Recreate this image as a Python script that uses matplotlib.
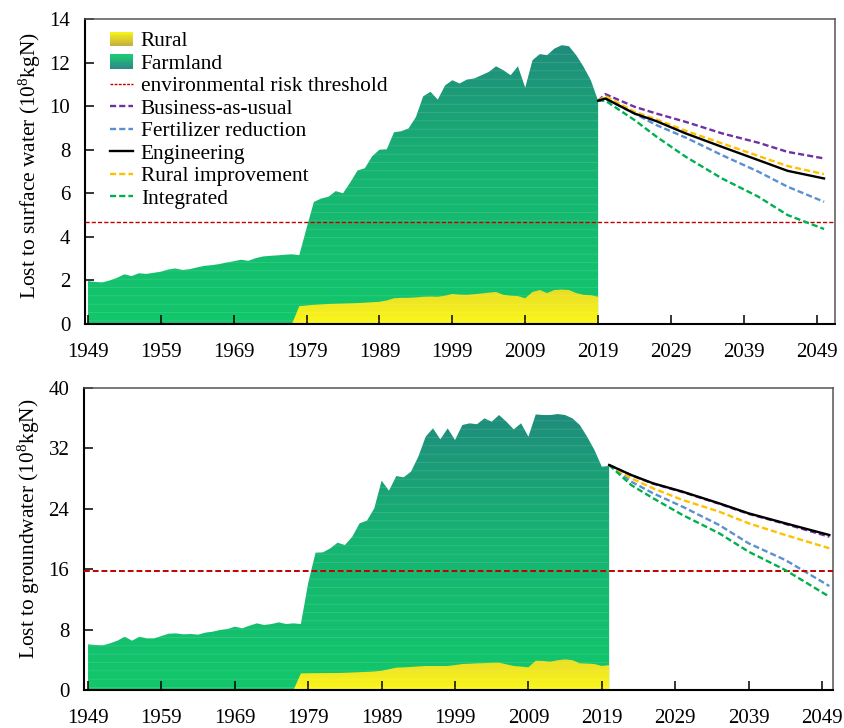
import numpy as np
import matplotlib
matplotlib.use("Agg")
import matplotlib.pyplot as plt
from matplotlib.colors import LinearSegmentedColormap
from matplotlib.legend_handler import HandlerBase
from matplotlib.patches import Patch, Rectangle
from matplotlib.lines import Line2D

plt.rcParams.update({
    "font.family": "Liberation Serif",
    "mathtext.fontset": "custom",
    "mathtext.rm": "Liberation Serif",
    "mathtext.default": "regular",
    "hatch.linewidth": 0.5,
})

# ---- historical data (10^8 kgN) ----
years_sw = np.arange(1949, 2020)
surface_farmland = [
    1.97, 1.93, 1.91, 2.00, 2.12, 2.28, 2.20, 2.33, 2.30, 2.35,
    2.40, 2.50, 2.55, 2.48, 2.52, 2.60, 2.67, 2.70, 2.75, 2.82,
    2.88, 2.95, 2.90, 3.02, 3.10, 3.13, 3.15, 3.18, 3.20, 3.16,
    4.40, 5.60, 5.76, 5.84, 6.10, 6.00, 6.50, 7.05, 7.15, 7.70,
    8.00, 8.02, 8.80, 8.85, 8.98, 9.50, 10.45, 10.66, 10.30, 10.95,
    11.19, 11.04, 11.22, 11.27, 11.42, 11.57, 11.83, 11.65, 11.42, 11.83,
    10.85, 12.11, 12.39, 12.34, 12.64, 12.80, 12.75, 12.34, 11.81, 11.19,
    10.25]
surface_rural = [0.0] * 29 + [
    0.82, 0.85, 0.88, 0.90, 0.92, 0.93, 0.94, 0.95, 0.96, 0.98,
    1.00, 1.02, 1.08, 1.18, 1.20, 1.20, 1.22, 1.25, 1.26, 1.25,
    1.30, 1.38, 1.35, 1.34, 1.37, 1.40, 1.44, 1.47, 1.34, 1.30,
    1.28, 1.18, 1.47, 1.56, 1.42, 1.56, 1.58, 1.56, 1.42, 1.34,
    1.32, 1.25]

years_gw = np.arange(1949, 2021)
ground_farmland = [
    6.05, 5.96, 5.92, 6.18, 6.53, 7.06, 6.53, 7.06, 6.84, 6.84,
    7.15, 7.46, 7.50, 7.37, 7.42, 7.33, 7.60, 7.73, 7.95, 8.08,
    8.39, 8.17, 8.52, 8.83, 8.61, 8.74, 8.96, 8.74, 8.83, 8.74,
    14.20, 18.19, 18.23, 18.76, 19.51, 19.20, 20.30, 22.08, 22.43, 24.06,
    27.73, 26.40, 28.34, 28.17, 28.92, 30.91, 33.55, 34.66, 33.20, 34.66,
    33.11, 35.10, 35.32, 35.20, 35.98, 35.54, 36.42, 35.54, 34.52, 35.32,
    33.55, 36.50, 36.42, 36.42, 36.55, 36.42, 35.98, 35.10, 33.55, 31.79,
    29.58, 29.67]
ground_rural = [0.0] * 29 + [
    2.20, 2.22, 2.23, 2.24, 2.25, 2.25, 2.28, 2.32, 2.36, 2.40,
    2.45, 2.55, 2.75, 2.96, 3.00, 3.05, 3.12, 3.18, 3.18, 3.18,
    3.18, 3.30, 3.44, 3.48, 3.53, 3.56, 3.60, 3.62, 3.40, 3.18,
    3.10, 3.00, 3.88, 3.85, 3.75, 3.95, 4.06, 3.95, 3.53, 3.50,
    3.44, 3.18, 3.30]

# ---- scenarios ----
sc_years_sw = [2019, 2020, 2024, 2027, 2031, 2036, 2041, 2045, 2050]
sw_bau = [10.25, 10.55, 9.97, 9.66, 9.28, 8.75, 8.32, 7.90, 7.60]
sw_fert = [10.25, 10.35, 9.66, 9.13, 8.56, 7.75, 6.99, 6.30, 5.61]
sw_eng = [10.25, 10.35, 9.66, 9.31, 8.75, 8.13, 7.52, 7.03, 6.68]
sw_rural = [10.25, 10.46, 9.74, 9.39, 8.87, 8.29, 7.71, 7.25, 6.88]
sw_integ = [10.25, 10.25, 9.36, 8.60, 7.68, 6.68, 5.84, 5.00, 4.36]

sc_years_gw = [2020, 2023, 2026, 2030, 2035, 2039, 2044, 2050]
gw_bau = [29.8, 28.45, 27.33, 26.22, 24.67, 23.33, 22.00, 20.30]
gw_fert = [29.8, 27.60, 26.05, 24.28, 21.85, 19.43, 17.22, 13.77]
gw_eng = [29.8, 28.48, 27.37, 26.27, 24.72, 23.40, 22.08, 20.53]
gw_rural = [29.8, 28.04, 26.71, 25.17, 23.62, 22.08, 20.53, 18.77]
gw_integ = [29.8, 27.15, 25.39, 23.18, 20.75, 18.32, 15.89, 12.36]

threshold_sw = 4.7
threshold_gw = 15.7

tick_years = list(range(1949, 2050, 10))

FARM_CMAP = LinearSegmentedColormap.from_list("farm", ["#12c76b", "#17b472", "#21847e"])
RURAL_CMAP = LinearSegmentedColormap.from_list("rural", ["#fbf719", "#ece324", "#d4c236"])
LEG_RURAL = LinearSegmentedColormap.from_list("lr", ["#f6f21c", "#c4ae3e"])
LEG_FARM = LinearSegmentedColormap.from_list("lf", ["#1ccc74", "#2e8a86"])

SCEN = [
    ("Business-as-usual", "#7030a0", (0, (2.6, 1.3)), 2),
    ("Fertilizer reduction", "#5b8fd0", (0, (2.6, 1.3)), 2),
    ("Engineering", "black", "-", 5),
    ("Rural improvement", "#ffc000", (0, (2.6, 1.3)), 3),
    ("Integrated", "#00b050", (0, (2.6, 1.3)), 4),
]
FS = 15.4


class GradientHandler(HandlerBase):
    def __init__(self, cmap):
        super().__init__()
        self.cmap = cmap

    def create_artists(self, legend, orig_handle, xdescent, ydescent,
                       width, height, fontsize, trans):
        n = 16
        out = []
        for i in range(n):
            out.append(Rectangle((-xdescent, -ydescent + height * i / n),
                                 width, height / n * 1.05,
                                 facecolor=self.cmap(1 - i / (n - 1)),
                                 edgecolor="none", transform=trans))
        return out


def gradient_area(ax, x, y, cmap, ytop, z):
    x = np.asarray(x, float)
    y = np.asarray(y, float)
    poly = ax.fill_between(x, 0, y, facecolor="none", edgecolor="none")
    grad = np.linspace(0, 1, 256).reshape(-1, 1)
    im = ax.imshow(grad, extent=[x.min(), x.max(), 0, ytop], origin="lower",
                   aspect="auto", cmap=cmap, zorder=z, interpolation="bilinear")
    im.set_clip_path(poly.get_paths()[0], transform=ax.transData)
    ax.fill_between(x, 0, y, facecolor="none", edgecolor=(1, 1, 1, 0.16),
                    hatch="--", linewidth=0, zorder=z + 0.1)


def panel(ax, yrs, farm, rural, sc_years, scen_vals, thr, ymax, yticks,
          xlim, ylabel, lab_y, thr_lw):
    gradient_area(ax, yrs, farm, FARM_CMAP, ymax, 1)
    gradient_area(ax, yrs, rural, RURAL_CMAP, max(rural) * 1.6, 1.5)
    ax.axhline(thr, color="#c00000", lw=thr_lw, ls=(0, (3, 1.5)), zorder=3)
    for (name, c, ls, z), vals in zip(SCEN, scen_vals):
        ax.plot(sc_years, vals, color=c, ls=ls, lw=1.7, zorder=z)
    ax.set_xlim(*xlim)
    ax.set_ylim(0, ymax)
    ax.set_yticks(yticks)
    ax.set_xticks(tick_years)
    ax.tick_params(axis="both", direction="in", length=6.5, width=1.1,
                   labelsize=15)
    ax.tick_params(axis="x", pad=13.5)
    ax.tick_params(axis="y", pad=10.5)
    for s in ("left", "bottom"):
        ax.spines[s].set_color("black")
        ax.spines[s].set_linewidth(1.5)
    for s in ("top", "right"):
        ax.spines[s].set_color("#555555")
        ax.spines[s].set_linewidth(1.1)
    ax.set_ylabel(ylabel, fontsize=FS)
    ax.yaxis.set_label_coords(-0.056, lab_y)


fig = plt.figure(figsize=(8.45, 7.28), dpi=100)
ax1 = fig.add_axes([85 / 845, 1 - 324 / 728, 750 / 845, 305 / 728])
ax2 = fig.add_axes([84 / 845, 38 / 728, 749 / 845, 302 / 728])

panel(ax1, years_sw, surface_farmland, surface_rural, sc_years_sw,
      [sw_bau, sw_fert, sw_eng, sw_rural, sw_integ], threshold_sw, 14,
      range(0, 15, 2), (1948.6, 2051.5),
      "Lost to surface water (10$^{8}$kgN)", 0.52, 1.0)
panel(ax2, years_gw, ground_farmland, ground_rural, sc_years_gw,
      [gw_bau, gw_fert, gw_eng, gw_rural, gw_integ], threshold_gw, 40,
      range(0, 41, 8), (1948.45, 2050.5),
      "Lost to groundwater (10$^{8}$kgN)", 0.535, 1.4)

# legend
h_rural = Patch(label="Rural")
h_farm = Patch(label="Farmland")
h_thr = Line2D([0], [0], color="#c00000", lw=1.0, ls=(0, (2, 1)),
               label="environmental risk threshold")
handles = [h_rural, h_farm, h_thr]
for name, c, ls, z in SCEN:
    handles.append(Line2D([0], [0], color=c, ls=ls, lw=1.7, label=name))
ax1.legend(handles=handles, loc="upper left", bbox_to_anchor=(0.016, 1.0),
           frameon=False, fontsize=FS, handlelength=1.1, handleheight=0.65,
           handletextpad=0.35, labelspacing=0.13, borderpad=0.1,
           handler_map={h_rural: GradientHandler(LEG_RURAL),
                        h_farm: GradientHandler(LEG_FARM)})

fig.savefig("out.png", dpi=100)
